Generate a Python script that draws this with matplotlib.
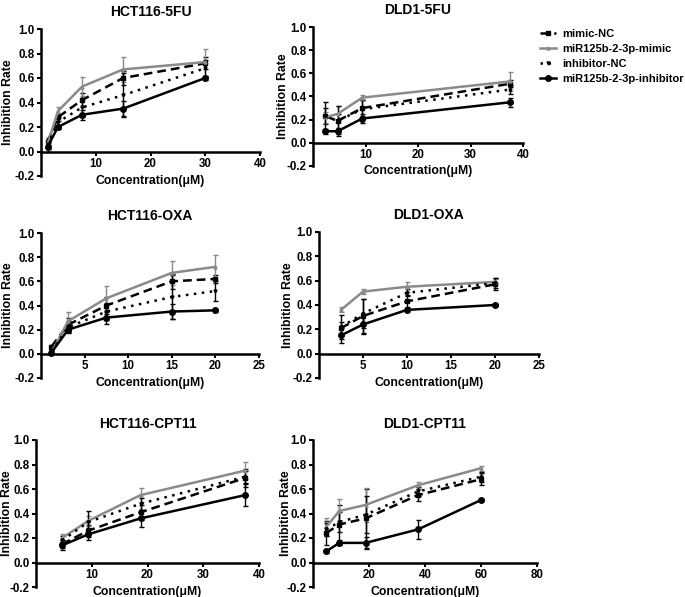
import numpy as np
import matplotlib
matplotlib.use("Agg")
import matplotlib.pyplot as plt
from matplotlib.transforms import blended_transform_factory

plt.rcParams['font.family'] = ['Liberation Sans', 'DejaVu Sans']
plt.rcParams['font.weight'] = 'bold'

series_names = ["mimic-NC", "miR125b-2-3p-mimic", "inhibitor-NC", "miR125b-2-3p-inhibitor"]

# HCT116-5FU
hct_5fu_x = [1.2, 3.1, 7.5, 15, 30]
hct_5fu_mean = {
    "mimic-NC": [0.08, 0.28, 0.42, 0.60, 0.72],
    "miR125b-2-3p-mimic": [0.06, 0.33, 0.53, 0.67, 0.73],
    "inhibitor-NC": [0.05, 0.24, 0.36, 0.46, 0.68],
    "miR125b-2-3p-inhibitor": [0.04, 0.20, 0.30, 0.35, 0.60],
}
hct_5fu_sd = {
    "mimic-NC": [0.03, 0.03, 0.06, 0.06, 0.05],
    "miR125b-2-3p-mimic": [0.04, 0.03, 0.08, 0.10, 0.11],
    "inhibitor-NC": [0.03, 0.04, 0.08, 0.18, 0.07],
    "miR125b-2-3p-inhibitor": [0.04, 0.02, 0.04, 0.06, 0.02],
}

# DLD1-5FU
dld_5fu_x = [2.34, 4.69, 9.375, 37.5]
dld_5fu_mean = {
    "mimic-NC": [0.23, 0.19, 0.30, 0.51],
    "miR125b-2-3p-mimic": [0.22, 0.25, 0.39, 0.53],
    "inhibitor-NC": [0.23, 0.19, 0.29, 0.46],
    "miR125b-2-3p-inhibitor": [0.10, 0.10, 0.21, 0.35],
}
dld_5fu_sd = {
    "mimic-NC": [0.07, 0.06, 0.07, 0.03],
    "miR125b-2-3p-mimic": [0.05, 0.07, 0.02, 0.08],
    "inhibitor-NC": [0.12, 0.13, 0.08, 0.04],
    "miR125b-2-3p-inhibitor": [0.02, 0.02, 0.04, 0.04],
}

# HCT116-OXA
hct_oxa_x = [1.2, 3.1, 7.5, 15, 20]
hct_oxa_mean = {
    "mimic-NC": [0.06, 0.24, 0.40, 0.60, 0.62],
    "miR125b-2-3p-mimic": [0.01, 0.27, 0.46, 0.67, 0.72],
    "inhibitor-NC": [0.02, 0.22, 0.35, 0.47, 0.52],
    "miR125b-2-3p-inhibitor": [0.01, 0.20, 0.30, 0.35, 0.36],
}
hct_oxa_sd = {
    "mimic-NC": [0.01, 0.06, 0.07, 0.06, 0.03],
    "miR125b-2-3p-mimic": [0.01, 0.08, 0.10, 0.10, 0.10],
    "inhibitor-NC": [0.01, 0.05, 0.07, 0.18, 0.08],
    "miR125b-2-3p-inhibitor": [0.01, 0.02, 0.05, 0.06, 0.01],
}

# DLD1-OXA
dld_oxa_x = [2.5, 5, 10, 20]
dld_oxa_mean = {
    "mimic-NC": [0.21, 0.31, 0.43, 0.57],
    "miR125b-2-3p-mimic": [0.36, 0.51, 0.55, 0.59],
    "inhibitor-NC": [0.22, 0.33, 0.50, 0.58],
    "miR125b-2-3p-inhibitor": [0.15, 0.24, 0.36, 0.40],
}
dld_oxa_sd = {
    "mimic-NC": [0.05, 0.14, 0.05, 0.05],
    "miR125b-2-3p-mimic": [0.02, 0.02, 0.04, 0.02],
    "inhibitor-NC": [0.10, 0.12, 0.03, 0.04],
    "miR125b-2-3p-inhibitor": [0.06, 0.08, 0.01, 0.01],
}

# HCT116-CPT11
hct_cpt_x = [4.69, 9.375, 18.75, 37.5]
hct_cpt_mean = {
    "mimic-NC": [0.15, 0.26, 0.41, 0.69],
    "miR125b-2-3p-mimic": [0.20, 0.34, 0.55, 0.75],
    "inhibitor-NC": [0.18, 0.33, 0.48, 0.70],
    "miR125b-2-3p-inhibitor": [0.14, 0.23, 0.36, 0.55],
}
hct_cpt_sd = {
    "mimic-NC": [0.03, 0.05, 0.06, 0.07],
    "miR125b-2-3p-mimic": [0.03, 0.04, 0.06, 0.07],
    "inhibitor-NC": [0.04, 0.09, 0.05, 0.05],
    "miR125b-2-3p-inhibitor": [0.04, 0.05, 0.07, 0.09],
}

# DLD1-CPT11
dld_cpt_x = [4.69, 9.375, 18.75, 37.5, 60]
dld_cpt_mean = {
    "mimic-NC": [0.24, 0.31, 0.36, 0.55, 0.68],
    "miR125b-2-3p-mimic": [0.29, 0.42, 0.47, 0.63, 0.77],
    "inhibitor-NC": [0.27, 0.33, 0.39, 0.58, 0.70],
    "miR125b-2-3p-inhibitor": [0.09, 0.16, 0.16, 0.27, 0.51],
}
dld_cpt_sd = {
    "mimic-NC": [0.10, 0.16, 0.24, 0.05, 0.05],
    "miR125b-2-3p-mimic": [0.07, 0.10, 0.14, 0.03, 0.02],
    "inhibitor-NC": [0.05, 0.08, 0.15, 0.04, 0.04],
    "miR125b-2-3p-inhibitor": [0.01, 0.02, 0.05, 0.08, 0.01],
}

styles = {
    "mimic-NC": dict(color="black", ls=(0, (3.5, 2)), marker="s", ms=2.2),
    "miR125b-2-3p-mimic": dict(color="#8a8a8a", ls="-", marker="^", ms=2.2),
    "inhibitor-NC": dict(color="black", ls=(0, (1, 2.2)), marker="v", ms=2.2),
    "miR125b-2-3p-inhibitor": dict(color="black", ls="-", marker="o", ms=4),
}

# title, x, means, sds, xmax, xticks, axes box (l, r, t, b px), ylabel anchor x px
panels = [
    ("HCT116-5FU", hct_5fu_x, hct_5fu_mean, hct_5fu_sd, 40, [10, 20, 30, 40], (41, 260, 29, 176), 14),
    ("DLD1-5FU", dld_5fu_x, dld_5fu_mean, dld_5fu_sd, 40, [10, 20, 30, 40], (313, 523, 27, 166), 289),
    ("HCT116-OXA", hct_oxa_x, hct_oxa_mean, hct_oxa_sd, 25, [5, 10, 15, 20, 25], (41, 259, 233, 378), 14),
    ("DLD1-OXA", dld_oxa_x, dld_oxa_mean, dld_oxa_sd, 25, [5, 10, 15, 20, 25], (319, 539, 232, 378), 294),
    ("HCT116-CPT11", hct_cpt_x, hct_cpt_mean, hct_cpt_sd, 40, [10, 20, 30, 40], (36, 259, 440, 587), 13),
    ("DLD1-CPT11", dld_cpt_x, dld_cpt_mean, dld_cpt_sd, 80, [20, 40, 60, 80], (313, 537, 440, 587), 292),
]

W, H = 685, 597
fig = plt.figure(figsize=(W / 100, H / 100), dpi=100)

handles = []
for title, xs, means, sds, xmax, xticks, (l, r, t, b), ylx in panels:
    ax = fig.add_axes([l / W, 1 - b / H, (r - l) / W, (b - t) / H])
    hs = []
    for name in series_names:
        st = styles[name]
        ax.errorbar(xs, means[name], yerr=sds[name], color=st["color"], ecolor=st["color"],
                    elinewidth=1.0, capsize=1.8, capthick=1.0, ls="none", zorder=2)
        h, = ax.plot(xs, means[name], color=st["color"], ls=st["ls"], lw=1.8,
                     marker=st["marker"], ms=st["ms"], label=name, zorder=3)
        hs.append(h)
    if not handles:
        handles = hs
    ax.set_xlim(0, xmax)
    ax.set_ylim(-0.2, 1.0)
    ax.set_xticks(xticks)
    yt = np.arange(-0.2, 1.01, 0.2)
    ax.set_yticks(yt)
    ax.set_yticklabels([f"{v:.1f}" if abs(v) > 1e-9 else "0.0" for v in yt])
    ax.spines["top"].set_visible(False)
    ax.spines["right"].set_visible(False)
    ax.spines["bottom"].set_position(("data", 0))
    ax.spines["left"].set_linewidth(1.8)
    ax.spines["bottom"].set_linewidth(1.8)
    ax.tick_params(axis="both", width=1.5, length=3, labelsize=8.3, direction="out", pad=1.5)
    for lab in ax.get_xticklabels() + ax.get_yticklabels():
        lab.set_fontweight("bold")
    ax.set_title(title, fontsize=10, fontweight="bold", pad=9)
    ax.set_ylabel("Inhibition Rate", fontsize=8.8, fontweight="bold")
    ax.yaxis.set_label_coords(ylx / W, 0.5,
                              transform=blended_transform_factory(fig.transFigure, ax.transAxes))
    ax.set_xlabel("Concentration(\u03bcM)", fontsize=8.8, fontweight="bold")
    ax.xaxis.set_label_coords(0.5, 0.01)

fig.legend(handles, series_names, loc="upper left", bbox_to_anchor=(530 / W, 1 - 19 / H),
           frameon=False, handlelength=1.4, handletextpad=0.6, labelspacing=0.45,
           prop={"weight": "bold", "size": 8})

fig.savefig("out.png", dpi=100)
